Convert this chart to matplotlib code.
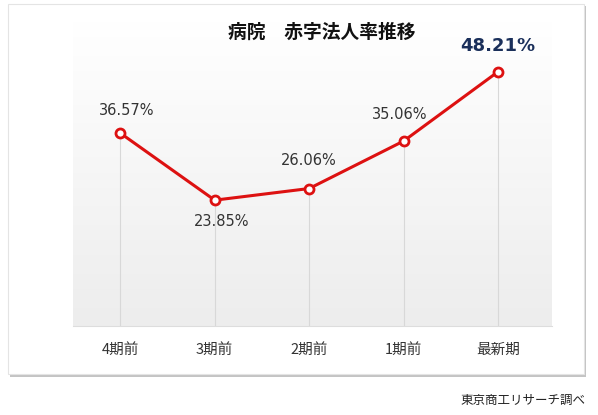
import numpy as np
import matplotlib
matplotlib.use('Agg')
import matplotlib.pyplot as plt
from matplotlib.patches import Rectangle

plt.rcParams['font.family'] = ['Noto Sans CJK JP', 'DejaVu Sans']

categories = ['4期前', '3期前', '2期前', '1期前', '最新期']
rates = [36.57, 23.85, 26.06, 35.06, 48.21]
labels = ['36.57%', '23.85%', '26.06%', '35.06%', '48.21%']

W, H = 598, 415
fig = plt.figure(figsize=(W / 100, H / 100), dpi=100)

# framed card with drop shadow
fig.patches.append(Rectangle((10 / W, 1 - 377 / H), 576 / W, 371 / H, transform=fig.transFigure,
                             facecolor='#c4c4c4', edgecolor='none', zorder=0))
fig.patches.append(Rectangle((8 / W, 1 - 374 / H), 576 / W, 370 / H, transform=fig.transFigure,
                             facecolor='white', edgecolor='#e4e4e4', lw=0.8, zorder=1))

ax = fig.add_axes([73 / W, (H - 326) / H, 479 / W, 306 / H])
ax.set_zorder(2)
ax.patch.set_alpha(0)
x = np.arange(len(categories))
ax.set_xlim(-0.5, 4.57)
ax.set_ylim(0, 58)

grad = np.linspace(0, 1, 100).reshape(-1, 1)
ax.imshow(grad, extent=[-0.5, 4.57, 0, 58], aspect='auto', origin='lower',
          cmap=matplotlib.colors.LinearSegmentedColormap.from_list('g', ['#ededed', '#ffffff']),
          zorder=0)

for xi, v in zip(x, rates):
    ax.plot([xi, xi], [0, v], color='#d8d8d8', lw=0.8, zorder=1)

ax.plot(x, rates, color='#dd1111', lw=2.2, marker='o', ms=6.5, mfc='white',
        mec='#dd1111', mew=2, zorder=3)

offsets = [(5, 11), (5, -10), (0, 15), (-3, 14), (0, 12)]
for xi, v, lab, (dx, dy) in zip(x, rates, labels, offsets):
    last = xi == len(x) - 1
    ax.annotate(lab, (xi, v), xytext=(dx, dy), textcoords='offset points',
                ha='center', va='bottom' if dy > 0 else 'top',
                fontsize=13 if last else 10.5, fontweight='bold' if last else 'normal',
                color='#1a2f5a' if last else '#333333', family=['DejaVu Sans'])

for s in ['top', 'left', 'right']:
    ax.spines[s].set_visible(False)
ax.spines['bottom'].set_color('#dddddd')
ax.set_yticks([])
ax.set_xticks(x)
ax.set_xticklabels(categories, fontsize=10.5, color='#333333')
ax.tick_params(axis='x', length=0, pad=12)

fig.text(322 / W, 1 - 32 / H, '病院　赤字法人率推移', ha='center', va='center',
         fontsize=13.5, fontweight='bold', color='#111111', zorder=5)
fig.text(585 / W, 1 - 400 / H, '東京商工リサーチ調べ', ha='right', va='center',
         fontsize=9, color='#222222')

fig.savefig('out.png', dpi=100)
